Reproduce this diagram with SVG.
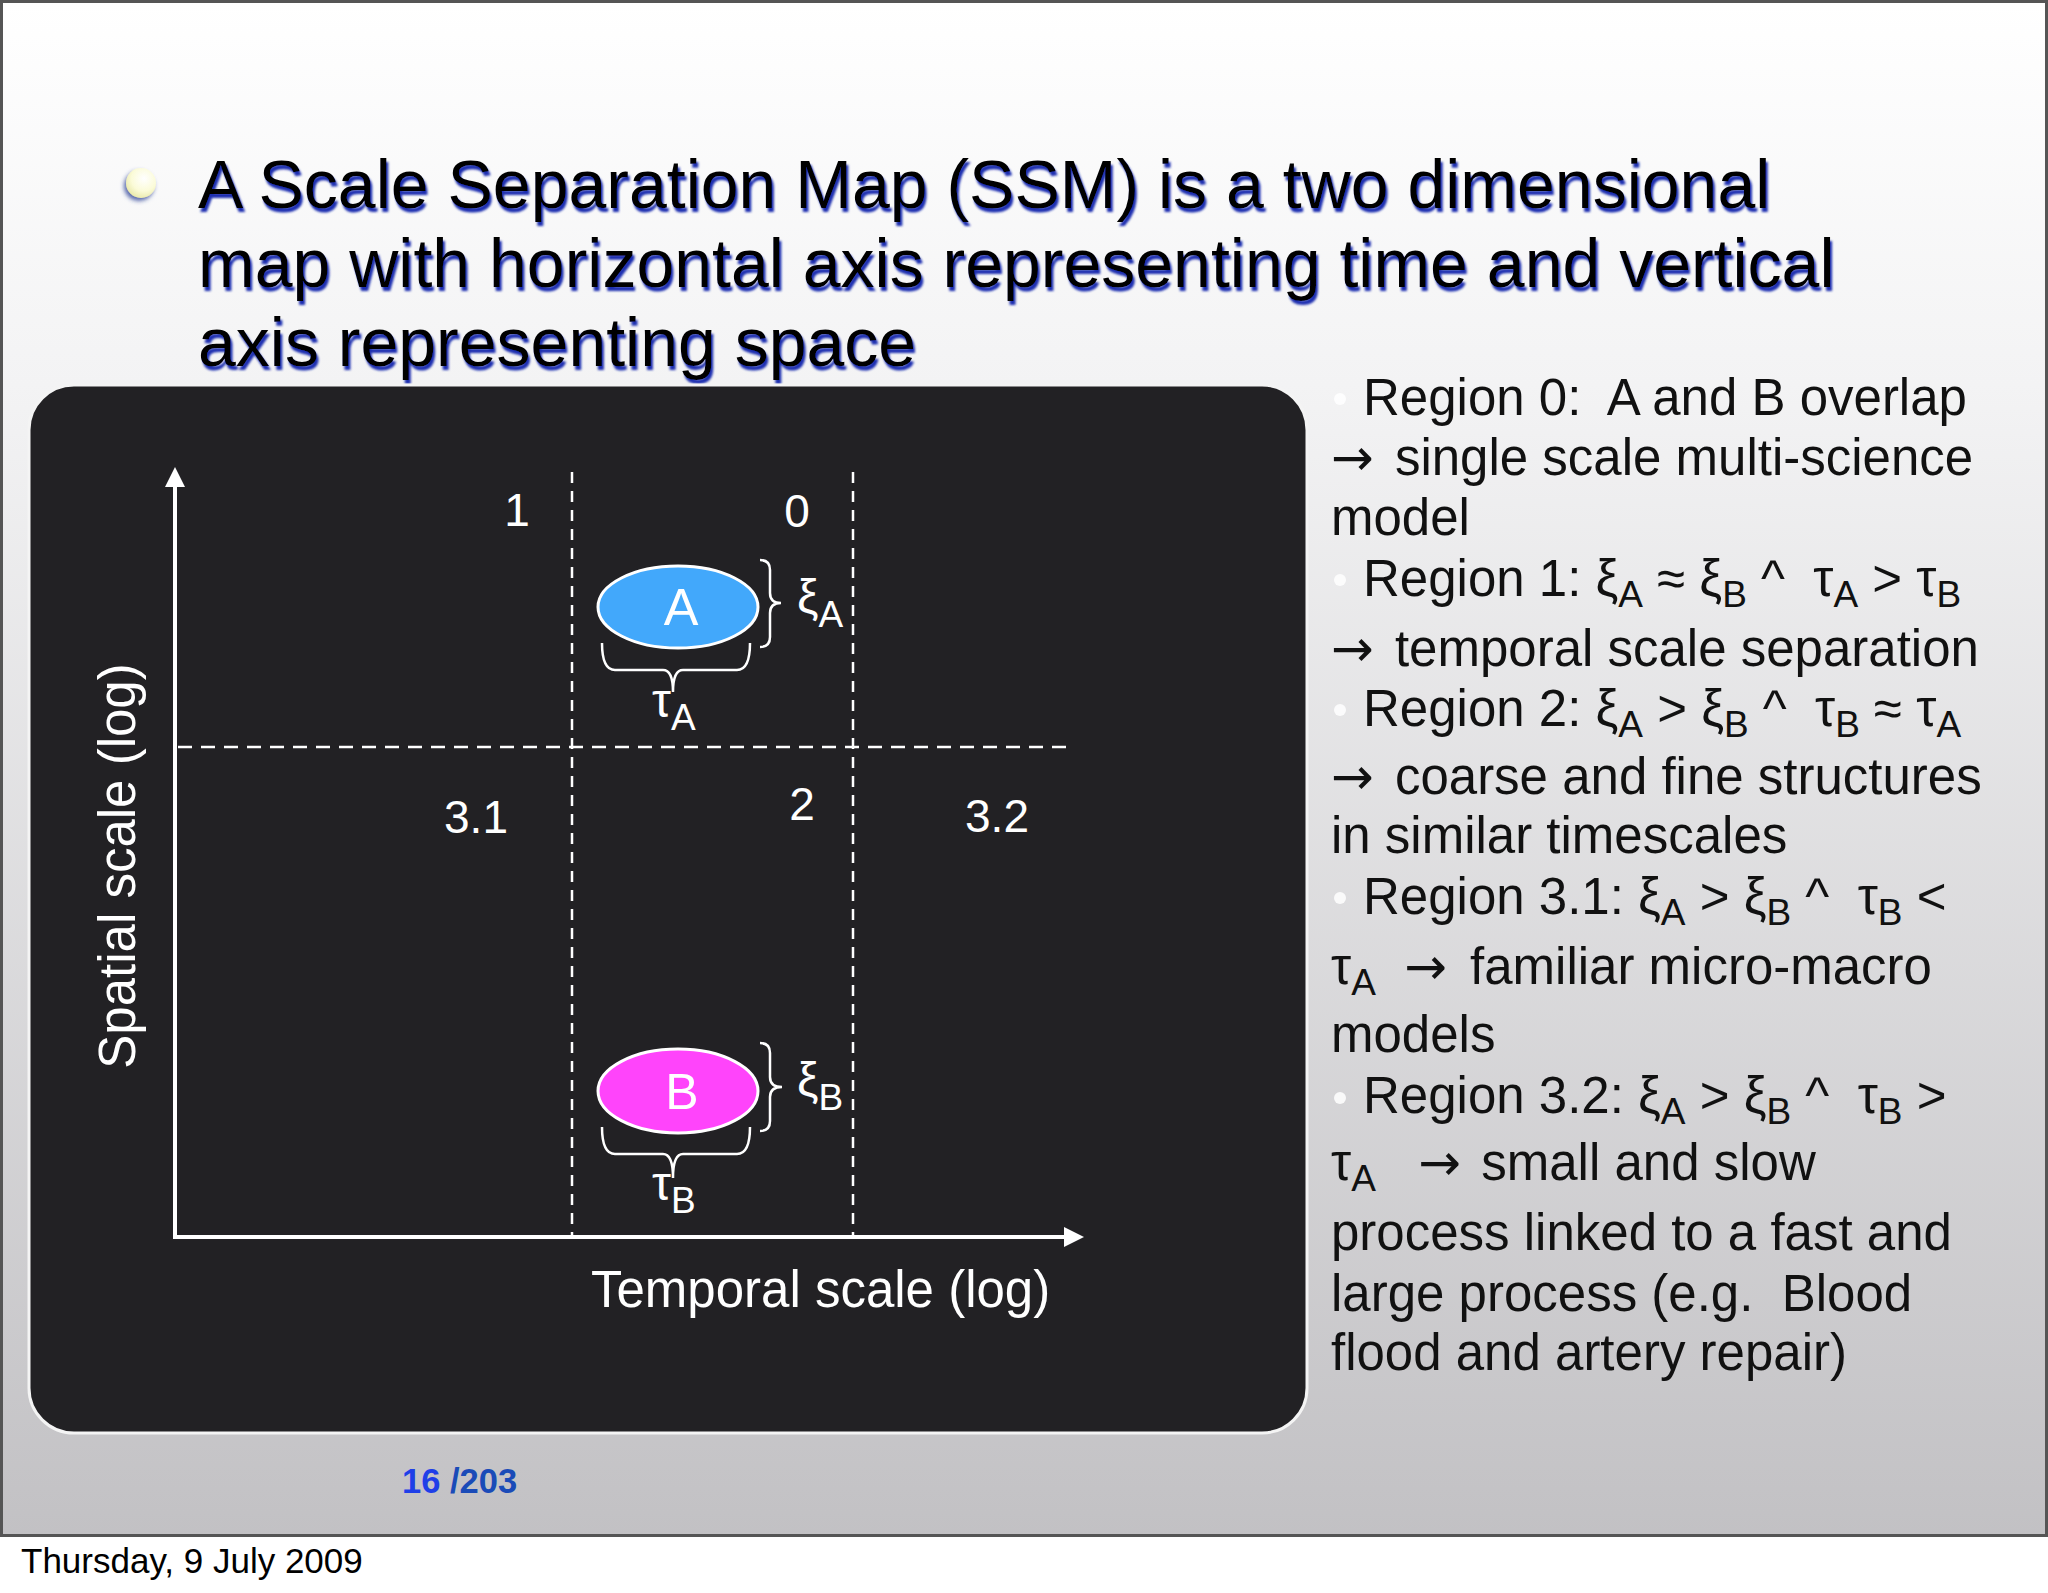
<svg xmlns="http://www.w3.org/2000/svg" width="2048" height="1593" viewBox="0 0 2048 1593">
<defs>
  <linearGradient id="bg" x1="0" y1="0" x2="0" y2="1">
    <stop offset="0" stop-color="#ffffff"/>
    <stop offset="0.25" stop-color="#f3f3f4"/>
    <stop offset="1" stop-color="#c2c1c4"/>
  </linearGradient>
  <radialGradient id="bul" cx="0.6" cy="0.35" r="0.7">
    <stop offset="0" stop-color="#ffffff"/>
    <stop offset="0.6" stop-color="#fbfbd8"/>
    <stop offset="1" stop-color="#e8e8a8"/>
  </radialGradient>
  <filter id="shadow" x="-5%" y="-20%" width="110%" height="150%">
    <feDropShadow dx="2" dy="4" stdDeviation="1.2" flood-color="#1f2fb0" flood-opacity="1"/>
  </filter>
  <filter id="bshadow" x="-50%" y="-50%" width="200%" height="200%">
    <feDropShadow dx="-2" dy="3" stdDeviation="2" flood-color="#334499" flood-opacity="0.8"/>
  </filter>
  <marker id="arrow" viewBox="0 0 20 20" refX="0" refY="10" markerWidth="20" markerHeight="20" markerUnits="userSpaceOnUse" orient="auto">
    <path d="M0,0 L20,10 L0,20 z" fill="#ffffff"/>
  </marker>
</defs>
<style>
  text { font-family: "Liberation Sans", Arial, sans-serif; }
  .title { font-size: 68px; fill: #000; }
  .w { fill: #ffffff; }
  .num { font-size: 46px; fill: #fff; }
  .axislbl { font-size: 51px; fill: #fff; }
  .body { font-size: 51px; fill: #111; white-space: pre; }
  .sub { font-size: 37px; }
  .arr { font-family: "DejaVu Sans", sans-serif; }
  .axis { stroke: #fff; stroke-width: 4; fill: none; }
  .vdash { stroke: #fff; stroke-width: 2.5; stroke-dasharray: 11 8; fill: none; }
  .hdash { stroke: #fff; stroke-width: 2.5; stroke-dasharray: 14 9; fill: none; }
  .brace { stroke: #fff; stroke-width: 2.5; fill: none; }
  .dot { fill: #ffffff; opacity: 0.85; }
</style>

<!-- slide background -->
<rect x="0" y="0" width="2048" height="1593" fill="#ffffff"/>
<rect x="1.5" y="1.5" width="2045" height="1534" fill="url(#bg)" stroke="#555555" stroke-width="3"/>

<!-- title -->
<g id="title">
  <circle cx="141" cy="183" r="15" fill="url(#bul)" filter="url(#bshadow)"/>
  <g filter="url(#shadow)">
    <text class="title" x="198" y="208">A Scale Separation Map (SSM) is a two dimensional</text>
    <text class="title" x="198" y="287">map with horizontal axis representing time and vertical</text>
    <text class="title" x="198" y="366">axis representing space</text>
  </g>
</g>

<!-- dark panel -->
<rect id="panel" x="29" y="385" width="1278" height="1048" rx="45" ry="45" fill="#222124" stroke="#f4f4f4" stroke-width="3"/>

<!-- connectors: axes, dashed separators, braces -->
<g id="connectors">
  <line class="axis" x1="175" y1="1237" x2="175" y2="487" marker-end="url(#arrow)"/>
  <line class="axis" x1="173" y1="1237" x2="1064" y2="1237" marker-end="url(#arrow)"/>
  <line class="vdash" x1="572" y1="472" x2="572" y2="1235"/>
  <line class="vdash" x1="853" y1="472" x2="853" y2="1235"/>
  <line class="hdash" x1="178" y1="747" x2="1075" y2="747"/>
  <path class="brace" d="M760,560 Q770,560 770,570 L770,593 Q770,603 781,603 Q770,603 770,613 L770,637 Q770,647 760,647"/>
  <path class="brace" d="M602,643 Q602,670 615,670 L663,670 Q673,670 673,692 Q673,670 683,670 L737,670 Q750,670 750,643"/>
  <path class="brace" d="M760,1043 Q770,1043 770,1053 L770,1077 Q770,1087 782,1087 Q770,1087 770,1097 L770,1121 Q770,1131 760,1131"/>
  <path class="brace" d="M602,1127 Q602,1154 615,1154 L663,1154 Q673,1154 673,1178 Q673,1154 683,1154 L737,1154 Q750,1154 750,1127"/>
</g>

<!-- nodes -->
<g id="node-A">
  <ellipse cx="678" cy="607" rx="80" ry="41" fill="#42a8fb" stroke="#ffffff" stroke-width="3"/>
  <text class="w" x="681" y="625" font-size="52" text-anchor="middle">A</text>
</g>
<g id="node-B">
  <ellipse cx="678" cy="1091" rx="80" ry="42" fill="#ff44fb" stroke="#ffffff" stroke-width="3"/>
  <text class="w" x="682" y="1109" font-size="50" text-anchor="middle">B</text>
</g>

<!-- scale labels -->
<g id="scale-labels" class="w">
  <text x="797" y="613" font-size="48">ξ<tspan class="sub" dy="14">A</tspan></text>
  <text x="797" y="1096" font-size="48">ξ<tspan class="sub" dy="14">B</tspan></text>
  <text x="652" y="717" font-size="48">τ<tspan class="sub" dy="13">A</tspan></text>
  <text x="652" y="1200" font-size="48">τ<tspan class="sub" dy="13">B</tspan></text>
</g>

<!-- region labels -->
<g id="region-labels">
  <text class="num" x="517" y="526" text-anchor="middle">1</text>
  <text class="num" x="797" y="527" text-anchor="middle">0</text>
  <text class="num" x="476" y="833" text-anchor="middle">3.1</text>
  <text class="num" x="802" y="820" text-anchor="middle">2</text>
  <text class="num" x="997" y="832" text-anchor="middle">3.2</text>
</g>

<!-- axis labels -->
<g id="axis-labels">
  <text class="axislbl" transform="translate(135,866) rotate(-90)" text-anchor="middle">Spatial scale (log)</text>
  <text class="axislbl" x="591" y="1307">Temporal scale (log)</text>
</g>

<!-- right column -->
<g id="notes">
  <circle class="dot" cx="1340" cy="399" r="6"/>
  <circle class="dot" cx="1340" cy="580" r="6"/>
  <circle class="dot" cx="1340" cy="710" r="6"/>
  <circle class="dot" cx="1340" cy="898" r="6"/>
  <circle class="dot" cx="1340" cy="1098" r="6"/>
  <text class="body" x="1363" y="415">Region 0:  A and B overlap</text>
  <text class="body" x="1331" y="475"><tspan class="arr">→</tspan><tspan dx="7"> single scale multi-science</tspan></text>
  <text class="body" x="1331" y="535">model</text>
  <text class="body" x="1363" y="596">Region 1: ξ<tspan class="sub" dy="11">A</tspan><tspan dy="-11"> ≈ ξ</tspan><tspan class="sub" dy="11">B</tspan><tspan dy="-11"> ^  τ</tspan><tspan class="sub" dy="11">A</tspan><tspan dy="-11"> &gt; τ</tspan><tspan class="sub" dy="11">B</tspan></text>
  <text class="body" x="1331" y="666"><tspan class="arr">→</tspan><tspan dx="7"> temporal scale separation</tspan></text>
  <text class="body" x="1363" y="726">Region 2: ξ<tspan class="sub" dy="11">A</tspan><tspan dy="-11"> &gt; ξ</tspan><tspan class="sub" dy="11">B</tspan><tspan dy="-11"> ^  τ</tspan><tspan class="sub" dy="11">B</tspan><tspan dy="-11"> ≈ τ</tspan><tspan class="sub" dy="11">A</tspan></text>
  <text class="body" x="1331" y="794"><tspan class="arr">→</tspan><tspan dx="7"> coarse and fine structures</tspan></text>
  <text class="body" x="1331" y="853">in similar timescales</text>
  <text class="body" x="1363" y="914">Region 3.1: ξ<tspan class="sub" dy="11">A</tspan><tspan dy="-11"> &gt; ξ</tspan><tspan class="sub" dy="11">B</tspan><tspan dy="-11"> ^  τ</tspan><tspan class="sub" dy="11">B</tspan><tspan dy="-11"> &lt;</tspan></text>
  <text class="body" x="1331" y="984">τ<tspan class="sub" dy="11">A</tspan><tspan dy="-11">  </tspan><tspan class="arr">→</tspan><tspan dx="9"> familiar micro-macro</tspan></text>
  <text class="body" x="1331" y="1052">models</text>
  <text class="body" x="1363" y="1113">Region 3.2: ξ<tspan class="sub" dy="11">A</tspan><tspan dy="-11"> &gt; ξ</tspan><tspan class="sub" dy="11">B</tspan><tspan dy="-11"> ^  τ</tspan><tspan class="sub" dy="11">B</tspan><tspan dy="-11"> &gt;</tspan></text>
  <text class="body" x="1331" y="1180">τ<tspan class="sub" dy="11">A</tspan><tspan dy="-11">   </tspan><tspan class="arr">→</tspan><tspan dx="6"> small and slow</tspan></text>
  <text class="body" x="1331" y="1250">process linked to a fast and</text>
  <text class="body" x="1331" y="1311">large process (e.g.  Blood</text>
  <text class="body" x="1331" y="1370">flood and artery repair)</text>
</g>

<!-- footer -->
<g id="footer">
  <text x="402" y="1493" font-size="34.5" font-weight="bold"><tspan fill="#1f3fe8">16 </tspan><tspan fill="#1a4bb8">/203</tspan></text>
  <text x="21" y="1573" font-size="35" fill="#000">Thursday, 9 July 2009</text>
</g>
</svg>
